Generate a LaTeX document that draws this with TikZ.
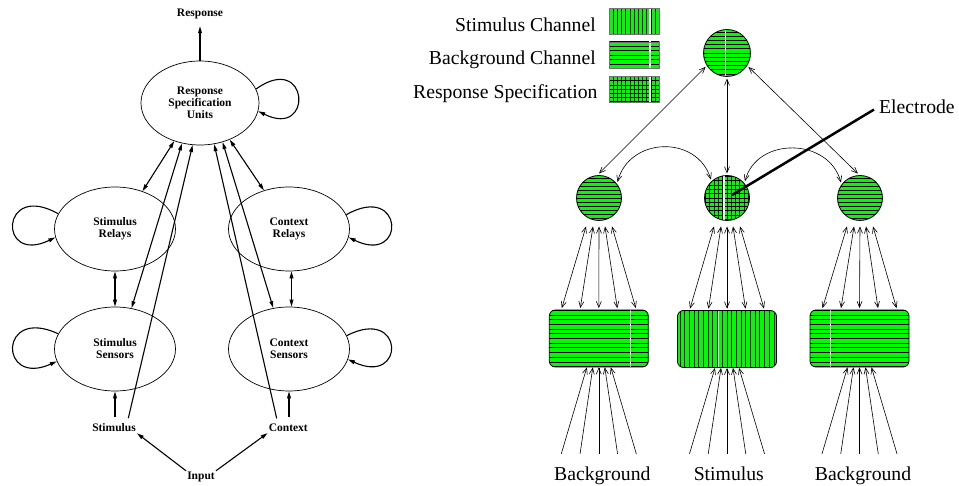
\documentclass[tikz,border=0pt]{standalone}
\usepackage{fontspec}
\setmainfont{Liberation Serif}
\usetikzlibrary{arrows.meta,calc,shapes.geometric}
\definecolor{chg}{RGB}{0,250,0}
\tikzset{
  lft/.style={line width=1.1pt,-{Triangle[length=7pt,width=3.8pt]}},
  lftd/.style={line width=1.1pt,{Triangle[length=7pt,width=3.8pt]}-{Triangle[length=7pt,width=3.8pt]}},
  unit/.style={ellipse,draw,line width=0.7pt,minimum width=121pt,minimum height=84pt,inner sep=0pt,align=center,font=\bfseries\fontsize{11.5}{12}\selectfont},
  blab/.style={inner sep=1pt,font=\bfseries\fontsize{11.5}{12}\selectfont},
  rt/.style={line width=0.6pt,-{Straight Barb[length=6pt,width=5pt]}},
  rtd/.style={line width=0.6pt,{Straight Barb[length=6pt,width=5pt]}-{Straight Barb[length=6pt,width=5pt]}},
  chan/.style={fill=chg,draw=black,line width=0.8pt,inner sep=0pt},
  blob/.style={chan,circle,minimum size=45pt,outer sep=2pt},
  bar/.style={chan,rectangle,rounded corners=6pt,minimum width=99pt,minimum height=57pt},
  key/.style={chan,rectangle,draw=black!55,minimum width=50pt,minimum height=26pt},
  rlab/.style={inner sep=0pt,font=\fontsize{19.7}{21}\selectfont},
  hpat/.style 2 args={path picture={%
     \foreach \k in {-15,...,15}{\draw[draw=black,line width=0.9pt] ([yshift=\k*#1]path picture bounding box.center) ++(-80pt,0pt) -- ++(160pt,0pt);}
     \draw[draw=white,line width=1.1pt] ([xshift=#2]path picture bounding box.center) ++(0pt,-60pt) -- ++(0pt,120pt);}},
  vpat/.style 2 args={path picture={%
     \foreach \k in {-15,...,15}{\draw[draw=black,line width=0.9pt] ([xshift=\k*#1]path picture bounding box.center) ++(0pt,-60pt) -- ++(0pt,120pt);}
     \draw[draw=white,line width=1.1pt] ([xshift=#2]path picture bounding box.center) ++(0pt,-60pt) -- ++(0pt,120pt);}},
  gpat/.style 2 args={path picture={%
     \foreach \k in {-15,...,15}{\draw[draw=black,line width=0.9pt] ([yshift=\k*#1]path picture bounding box.center) ++(-80pt,0pt) -- ++(160pt,0pt);
       \draw[draw=black,line width=0.9pt] ([xshift=\k*#1]path picture bounding box.center) ++(0pt,-60pt) -- ++(0pt,120pt);}
     \draw[draw=white,line width=1.1pt] ([xshift=#2]path picture bounding box.center) ++(0pt,-60pt) -- ++(0pt,120pt);}},
}
\begin{document}
\begin{tikzpicture}[x=1pt,y=-1pt]
\useasboundingbox[fill=white] (0,0) rectangle (959,486);

% ---------- left diagram ----------
\node[unit,minimum width=118pt] (resp) at (200,103) {Response\\Specification\\Units};
\node[unit] (srel) at (115,229) {Stimulus\\Relays};
\node[unit] (ssen) at (115,349) {Stimulus\\Sensors};
\node[unit] (crel) at (289,229) {Context\\Relays};
\node[unit] (csen) at (289,349) {Context\\Sensors};

\node[blab] (resplab) at (200,14) {Response};
\node[blab] (stim) at (114,428) {Stimulus};
\node[blab] (ctx) at (288.3,428) {Context};
\node[blab] (inp) at (201,477) {Input};

\draw[lft,shorten >=6pt] (resp.north) -- (resplab.south);

\draw[lftd] (resp.236) -- (srel.54);
\draw[lftd] (resp.246) -- (ssen.68);
\draw[lft] ($(stim.north)+(14.3,-4.5)$) -- (resp.260.6);
\draw[lft] ($(ctx.north)+(-11.6,-4.5)$) -- (resp.289);
\draw[lftd] (resp.300) -- (csen.111);
\draw[lftd] (resp.309) -- (crel.123);

\draw[lftd] (srel.south) -- (ssen.north);
\draw[lftd] ([xshift=2.5pt]crel.south) -- ([xshift=2.5pt]csen.north);

\draw[lft] ($(ssen.south |- stim.north)+(0,-6)$) -- (ssen.south);
\draw[lft] ($(csen.south |- ctx.north)+(0,-6)$) -- (csen.south);

\draw[lft] (inp.north west) -- (stim.south east);
\draw[lft] (inp.north east) -- (ctx.south west);

\draw[lft] (resp.14) .. controls +(53,-38) and +(56,28) .. (resp.-8);
\draw[lft] (srel.165) .. controls +(-58,-33) and +(-58,28) .. (srel.188);
\draw[lft] (ssen.165) .. controls +(-60,-28) and +(-58,26) .. (ssen.192);
\draw[lft] (crel.14) .. controls +(58,-33) and +(58,28) .. (crel.-8);
\draw[lft] (csen.13) .. controls +(58,-30) and +(58,27) .. (csen.-10);

% ---------- right diagram ----------
\node[key,vpat={4.2pt}{15.7pt}] (k1) at (634.3,21.3) {};
\node[key,hpat={4.5pt}{15.7pt}] (k2) at (634.3,55) {};
\node[key,gpat={4.2pt}{15.7pt}] (k3) at (634.3,89.3) {};
\node[rlab,anchor=base east] (t1) at (596,31.7) {Stimulus Channel};
\node[rlab,anchor=base east] (t2) at (596,65) {Background Channel};
\node[rlab,anchor=base east] (t3) at (597.7,99) {Response Specification};

\node[blob,minimum size=47pt,hpat={4.2pt}{-1.5pt}] (tc) at (727,53) {};
\node[blob,hpat={4pt}{60pt}] (lc) at (599,198) {};
\node[blob,gpat={4.3pt}{-3pt}] (mc) at (727,198) {};
\node[blob,hpat={4pt}{60pt}] (rc) at (860,198) {};

\node[bar,hpat={4.7pt}{32pt}] (r1) at (598.8,338.5) {};
\node[bar,vpat={4.7pt}{-8.3pt}] (r2) at (727,339) {};
\node[bar,hpat={4.7pt}{-28.8pt}] (r3) at (859.5,338.5) {};

\node[rlab,anchor=base] (bg1) at (602.3,480.7) {Background};
\node[rlab,anchor=base] (st) at (728.8,480.7) {Stimulus};
\node[rlab,anchor=base] (bg2) at (863,480.7) {Background};

\node[rlab,anchor=base west] (el) at (879,113.3) {Electrode};

\draw[rtd] (tc.213) -- (lc.90);
\draw[rtd] (tc.south) -- (mc.north);
\draw[rtd] (tc.327) -- (rc.95);

\draw[rtd] (lc.41) .. controls +(12,-45) and +(-14,-45) .. (mc.131);
\draw[rtd] (mc.43) .. controls +(12,-45) and +(-12,-45) .. (rc.141);

\foreach \c/\r in {lc/r1, mc/r2, rc/r3}{
  \foreach \a/\b in {-13/-37, -6/-18.5, 0/0, 6/18.5, 13/37}{
    \draw[rtd] ($(\c.south)+(\a,4)$) -- ($(\r.north)+(\b,-1.5)$);
  }
}
\foreach \l/\r in {bg1/r1, st/r2, bg2/r3}{
  \foreach \a/\b in {-12/-37.5, -6/-18.75, 0/0, 6/18.75, 12/37.5}{
    \draw[rt] ($(\l.north -| \r.south)+(\b,-13)$) -- ($(\r.south)+(\a,0)$);
  }
}

\draw[line width=2.5pt] ([shift={(-5pt,-3pt)}]el.west) -- ($(mc.center)+(5,-3)$);
\end{tikzpicture}
\end{document}
